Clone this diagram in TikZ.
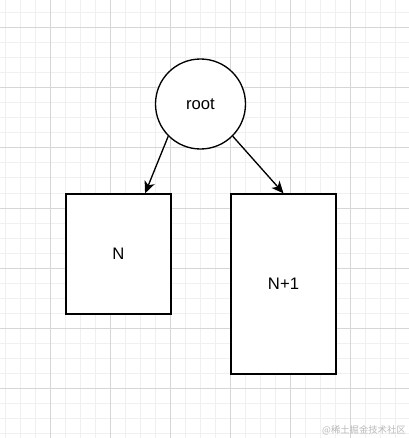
\documentclass[tikz,border=0pt]{standalone}
\usepackage{fontspec}
\setmainfont{Liberation Sans}
\newfontfamily\cjkfont{Noto Sans CJK SC}
\usepackage{tikz}
\usetikzlibrary{positioning, arrows.meta, shapes, calc}
\usepackage{xcolor}

\definecolor{minorgrid}{HTML}{F0F0F0}
\definecolor{majorgrid}{HTML}{D6D6D6}
\tikzset{
  treebox/.style={draw, line width=1pt, fill=white, inner sep=0pt, minimum width=78.75pt, font=\fontsize{12.5}{15}\selectfont},
  rootnode/.style={draw, circle, line width=1pt, fill=white, inner sep=0pt, minimum size=67.5pt, font=\fontsize{12.5}{15}\selectfont},
  treearrow/.style={line width=1pt, -{Stealth[length=9pt, width=8pt, inset=2.5pt]}}
}

\begin{document}
\begin{tikzpicture}[x=0.75pt, y=-0.75pt]
\useasboundingbox (0, 0) rectangle (409, 438);
\fill[white] (0, 0) rectangle (409, 438);

% Grid
\foreach \gx in {5, 20, ..., 409} \draw[minorgrid, line width=0.75pt] (\gx, 0) -- (\gx, 438);
\foreach \gy in {13, 28, ..., 438} \draw[minorgrid, line width=0.75pt] (0, \gy) -- (409, \gy);
\foreach \gx in {50, 110, ..., 409} \draw[majorgrid, line width=0.75pt] (\gx, 0) -- (\gx, 438);
\foreach \gy in {28, 88, ..., 438} \draw[majorgrid, line width=0.75pt] (0, \gy) -- (409, \gy);

% Tree
\node[rootnode] (root) at (200.5, 104) {root};
\node[treebox, minimum height=90pt] (nbox) at (118.5, 254) {N};
\node[treebox, minimum height=135pt] (nnext) at (283.5, 284) {N+1};

\draw[treearrow] (root.south west) -- ($(nbox.north)!0.5!(nbox.north east)$);
\draw[treearrow] (root.south east) -- (nnext.north);

% Watermark
\node[anchor=east, text=gray!55, inner sep=0pt, font=\cjkfont\fontsize{7}{8}\selectfont] (mark) at (406, 430) {@稀土掘金技术社区};
\end{tikzpicture}
\end{document}
